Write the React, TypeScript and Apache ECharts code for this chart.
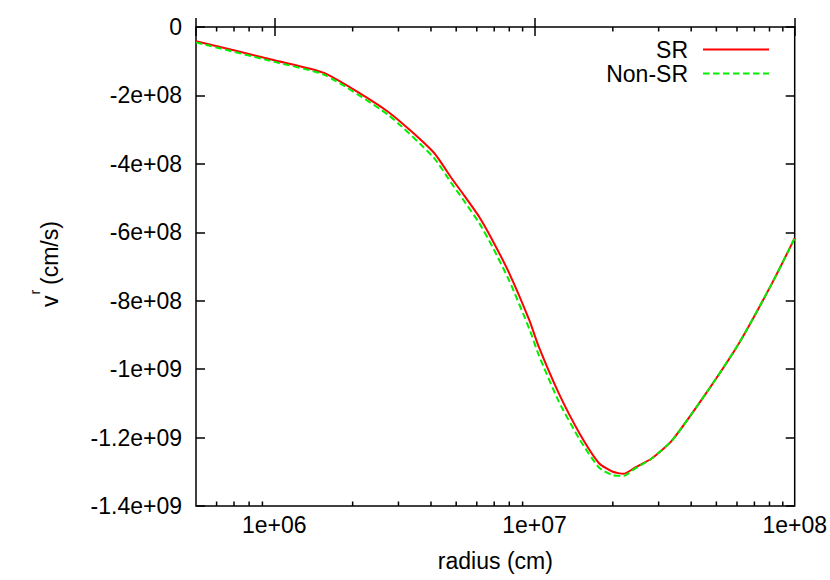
import React, { useEffect, useRef } from "react";
import * as echarts from "echarts";

// radius (cm) and v^r (cm/s)
const srRadius = [5e5, 1e6, 1.56e6, 2.75e6, 4.09e6, 4.8e6, 5.29e6, 6.14e6, 6.89e6, 8.0e6, 9.55e6, 1.04e7, 1.24e7, 1.49e7, 1.77e7, 2.0e7, 2.2e7, 2.44e7, 2.81e7, 3.38e7, 4.56e7, 6.1e7, 8.17e7, 1e8];
const srVel = [-4.15e7, -9.7e7, -1.35e8, -2.49e8, -3.66e8, -4.42e8, -4.86e8, -5.56e8, -6.23e8, -7.2e8, -8.57e8, -9.36e8, -1.071e9, -1.188e9, -1.275e9, -1.3e9, -1.306e9, -1.287e9, -1.262e9, -1.208e9, -1.071e9, -9.25e8, -7.5e8, -6.17e8];
const nonSrRadius = [5e5, 1e6, 1.56e6, 2.75e6, 4.09e6, 4.8e6, 5.29e6, 6.14e6, 6.89e6, 8.0e6, 9.55e6, 1.04e7, 1.24e7, 1.49e7, 1.77e7, 2.0e7, 2.2e7, 2.44e7, 2.81e7, 3.38e7, 4.56e7, 6.1e7, 8.17e7, 1e8];
const nonSrVel = [-4.5e7, -1.02e8, -1.4e8, -2.58e8, -3.81e8, -4.57e8, -5.02e8, -5.74e8, -6.42e8, -7.42e8, -8.82e8, -9.6e8, -1.095e9, -1.205e9, -1.288e9, -1.31e9, -1.312e9, -1.29e9, -1.262e9, -1.208e9, -1.071e9, -9.25e8, -7.5e8, -6.17e8];

const xTickValues = [1e6, 1e7, 1e8];
const xTickLabels = ["1e+06", "1e+07", "1e+08"];
const xMinorTicks = [6e5, 7e5, 8e5, 9e5, 2e6, 3e6, 4e6, 5e6, 6e6, 7e6, 8e6, 9e6, 2e7, 3e7, 4e7, 5e7, 6e7, 7e7, 8e7, 9e7];
const yTickValues = [-1.4e9, -1.2e9, -1e9, -8e8, -6e8, -4e8, -2e8, 0];
const yTickLabels = ["-1.4e+09", "-1.2e+09", "-1e+09", "-8e+08", "-6e+08", "-4e+08", "-2e+08", "0"];

const FONT = "'Liberation Sans', Arial, Helvetica, sans-serif";
const FS = 23;

function lookup(v: number, vals: number[], labels: string[]) {
  for (let i = 0; i < vals.length; i++) {
    const t = vals[i];
    if (Math.abs(v - t) <= Math.max(1, Math.abs(t) * 1e-6)) return labels[i];
  }
  return "";
}

export default function App() {
  const ref = useRef<HTMLDivElement>(null);
  useEffect(() => {
    if (!ref.current) return;
    const chart = echarts.init(ref.current, undefined, { renderer: "svg" });
    const grid = { left: 196, top: 27, width: 600, height: 479 };
    const xCommon = {
      type: "log" as const,
      logBase: 10,
      min: 5e5,
      max: 1e8,
      axisLine: { show: false },
      splitLine: { show: false },
      axisTick: { show: true, inside: true, length: 9, lineStyle: { color: "#000", width: 1.5 } },
    };
    const yCommon = {
      type: "value" as const,
      min: -1.4e9,
      max: 0,
      interval: 2e8,
      axisLine: { show: false },
      splitLine: { show: false },
      axisTick: { show: true, inside: true, length: 9, lineStyle: { color: "#000", width: 1.5 } },
    };
    chart.setOption({
      animation: false,
      backgroundColor: "#fff",
      textStyle: { fontFamily: FONT },
      grid: { ...grid, show: true, borderColor: "#000", borderWidth: 1.5, backgroundColor: "transparent" },
      xAxis: [
        {
          ...xCommon,
          position: "bottom",
          name: "radius (cm)",
          nameLocation: "middle",
          nameGap: 43,
          nameTextStyle: { fontSize: FS, color: "#000", fontFamily: FONT },
          axisLabel: {
            color: "#000",
            fontSize: FS,
            fontFamily: FONT,
            margin: 7,
            showMinLabel: true,
            showMaxLabel: true,
            formatter: (v: number) => lookup(v, xTickValues, xTickLabels),
          },
        },
        { ...xCommon, position: "top", axisLabel: { show: false } },
      ],
      yAxis: [
        {
          ...yCommon,
          position: "left",
          axisLabel: {
            color: "#000",
            fontSize: FS,
            fontFamily: FONT,
            margin: 14,
            formatter: (v: number) => lookup(v, yTickValues, yTickLabels),
          },
        },
        { ...yCommon, position: "right", axisLabel: { show: false } },
      ],
      legend: {
        orient: "vertical",
        right: 60,
        top: 38,
        padding: 0,
        align: "right",
        itemWidth: 66,
        itemHeight: 14,
        itemGap: 1,
        itemStyle: { opacity: 0 },
        textStyle: { fontSize: FS, color: "#000", fontFamily: FONT, lineHeight: 22, padding: [0, 10, 0, 0] },
        data: ["SR", "Non-SR"],
      },
      series: [
        {
          type: "custom",
          name: "minorTicks",
          xAxisIndex: 0,
          yAxisIndex: 0,
          silent: true,
          clip: false,
          data: xMinorTicks.map((v) => [v]),
          renderItem: (params: any, api: any) => {
            const x = api.value(0);
            const bottom = api.coord([x, -1.4e9]);
            const top = api.coord([x, 0]);
            const st = { stroke: "#000", lineWidth: 1.5 };
            return {
              type: "group",
              children: [
                { type: "line", shape: { x1: bottom[0], y1: bottom[1], x2: bottom[0], y2: bottom[1] - 4.5 }, style: st },
                { type: "line", shape: { x1: top[0], y1: top[1], x2: top[0], y2: top[1] + 4.5 }, style: st },
              ],
            };
          },
        },
        {
          type: "line",
          name: "SR",
          data: srRadius.map((r, i) => [r, srVel[i]]),
          showSymbol: false,
          symbol: "none",
          smooth: 0.2,
          lineStyle: { color: "#ff0000", width: 2 },
          itemStyle: { color: "#ff0000" },
        },
        {
          type: "line",
          name: "Non-SR",
          data: nonSrRadius.map((r, i) => [r, nonSrVel[i]]),
          showSymbol: false,
          symbol: "none",
          smooth: 0.2,
          lineStyle: { color: "#00ee00", width: 2, type: [6.5, 3.5] },
          itemStyle: { color: "#00ee00" },
        },
      ],
      graphic: [
        {
          type: "group",
          x: 49.5,
          y: 307,
          rotation: Math.PI / 2,
          children: [
            { type: "text", x: 0, y: 0, style: { text: "v", fontSize: FS, fontFamily: FONT, fill: "#000", align: "left", verticalAlign: "middle" } },
            { type: "text", x: 12.5, y: -15, style: { text: "r", fontSize: 14, fontFamily: FONT, fill: "#000", align: "left", verticalAlign: "middle" } },
            { type: "text", x: 22, y: 0, style: { text: "(cm/s)", fontSize: FS, fontFamily: FONT, fill: "#000", align: "left", verticalAlign: "middle" } },
          ],
        },
      ],
    });
    return () => chart.dispose();
  }, []);
  return <div ref={ref} style={{ position: "absolute", left: 0, top: 0, width: 830, height: 580 }} />;
}
